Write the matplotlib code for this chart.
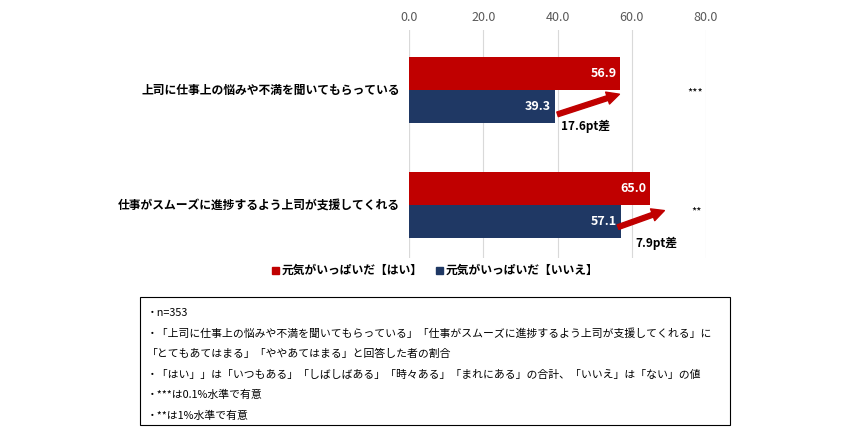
import matplotlib
matplotlib.use("Agg")
import matplotlib.pyplot as plt
from matplotlib.patches import Rectangle, FancyArrowPatch

plt.rcParams['font.family'] = ['Noto Sans CJK JP', 'DejaVu Sans']

categories = ["上司に仕事上の悩みや不満を聞いてもらっている", "仕事がスムーズに進捗するよう上司が支援してくれる"]
yes_vals = [56.9, 65.0]
no_vals = [39.3, 57.1]
diff_labels = ["17.6pt差", "7.9pt差"]
sig_labels = ["***", "**"]
series_names = ["元気がいっぱいだ【はい】", "元気がいっぱいだ【いいえ】"]
xticks = [0, 20, 40, 60, 80]
notes = ["・n=353",
         "・「上司に仕事上の悩みや不満を聞いてもらっている」「仕事がスムーズに進捗するよう上司が支援してくれる」に",
         "「とてもあてはまる」「ややあてはまる」と回答した者の割合",
         "・「はい」」は「いつもある」「しばしばある」「時々ある」「まれにある」の合計、「いいえ」は「ない」の値",
         "・***は0.1%水準で有意",
         "・**は1%水準で有意"]

RED = "#C00000"
NAVY = "#1F3864"

fig = plt.figure(figsize=(8.46, 4.4), dpi=100)
ax = fig.add_axes([409/846, 1-258/440, 297/846, 228/440])
h = 0.287
ys = [0, 1]
for i, y in enumerate(ys):
    ax.barh(y - h/2, yes_vals[i], height=h, color=RED, zorder=3)
    ax.barh(y + h/2, no_vals[i], height=h, color=NAVY, zorder=3)
    ax.text(yes_vals[i] - 1, y - h/2, f"{yes_vals[i]:.1f}", color="white", fontweight="bold",
            ha="right", va="center", fontsize=9, zorder=4)
    ax.text(no_vals[i] - 1, y + h/2, f"{no_vals[i]:.1f}", color="white", fontweight="bold",
            ha="right", va="center", fontsize=9, zorder=4)
    ax.text(-2.5, y, categories[i], ha="right", va="center", fontsize=8.5, fontweight="bold")

arrows = [((no_vals[0], 0.22), (yes_vals[0] + 0.5, 0.03)), ((no_vals[1] - 1.5, 1.2), (yes_vals[1] + 4.5, 1.04))]
for (s, e) in arrows:
    ax.add_patch(FancyArrowPatch(s, e, arrowstyle="simple,head_width=9,head_length=9,tail_width=3.5",
                                 color=RED, zorder=5, clip_on=False, mutation_scale=1))
ax.text(47.5, 0.32, diff_labels[0], ha="center", va="center", fontsize=8.5, fontweight="bold")
ax.text(66.5, 1.33, diff_labels[1], ha="center", va="center", fontsize=8.5, fontweight="bold")
ax.text(77, 0.02, sig_labels[0], ha="center", va="center", fontsize=8, clip_on=False)
ax.text(77.5, 1.06, sig_labels[1], ha="center", va="center", fontsize=8, clip_on=False)

ax.set_xlim(0, 80)
ax.set_ylim(1.46, -0.52)
ax.xaxis.tick_top()
ax.set_xticks(xticks)
ax.set_xticklabels([f"{t:.1f}" for t in xticks], fontsize=9, color="#595959")
ax.tick_params(axis='x', length=0, pad=4)
ax.set_yticks([])
ax.grid(axis='x', color="#D9D9D9", lw=0.8, zorder=0)
for sp in ax.spines.values():
    sp.set_visible(False)
ax.axvline(0, color="#D9D9D9", lw=0.8, zorder=0)

# legend
fig.patches.append(Rectangle((272/846, 1-274/440), 7/846, 7/440, color=RED, transform=fig.transFigure))
fig.text(282/846, 1-270/440, series_names[0], fontsize=8.5, va="center", fontweight="bold")
fig.patches.append(Rectangle((436/846, 1-274/440), 7/846, 7/440, color=NAVY, transform=fig.transFigure))
fig.text(446/846, 1-270/440, series_names[1], fontsize=8.5, va="center", fontweight="bold")

# note box
fig.patches.append(Rectangle((140/846, 1-425/440), 590/846, 128/440, fill=False, ec="black", lw=0.8,
                             transform=fig.transFigure))
for k, line in enumerate(notes):
    fig.text(147/846, 1-(313 + k*20.5)/440, line, fontsize=7.8, va="center")

fig.savefig("out.png", dpi=100)
